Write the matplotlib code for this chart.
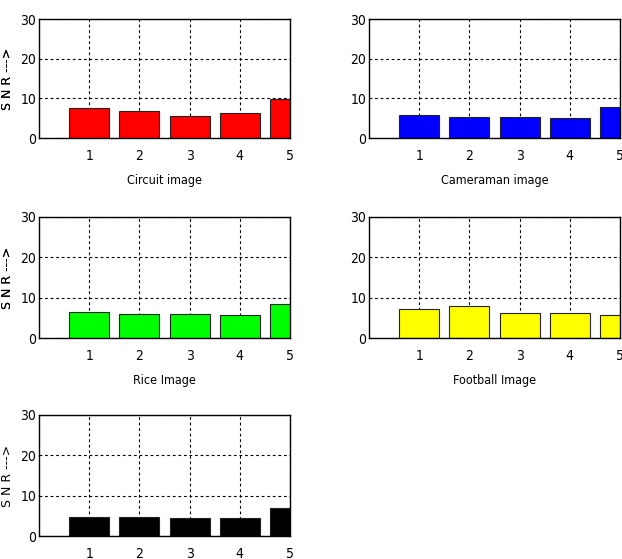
import matplotlib
matplotlib.use('Agg')
import matplotlib.pyplot as plt

positions = [1, 2, 3, 4, 5]
circuit = [7.6, 6.8, 5.5, 6.4, 9.8]
cameraman = [5.9, 5.3, 5.3, 5.0, 7.75]
rice = [6.4, 6.0, 6.0, 5.8, 8.5]
football = [7.1, 7.9, 6.1, 6.1, 5.8]
last = [4.75, 4.75, 4.5, 4.5, 7.0]

panels = [
    (circuit, '#ff0000', 'Circuit image'),
    (cameraman, '#0000ff', 'Cameraman image'),
    (rice, '#00ff00', 'Rice Image'),
    (football, '#ffff00', 'Football Image'),
    (last, '#000000', None),
]

# axes boxes in pixels: left, top, right, bottom
boxes = [
    (39, 19, 290, 138),
    (369, 19, 620, 138),
    (39, 217, 290, 338),
    (369, 217, 620, 338),
    (39, 415, 290, 536),
]

W, H = 622, 559

fig = plt.figure(figsize=(W / 100, H / 100), dpi=100)

for (vals, color, label), (l, t, r, b) in zip(panels, boxes):
    ax = fig.add_axes([l / W, 1 - b / H, (r - l) / W, (b - t) / H])
    ax.bar(positions, vals, width=0.8, color=color, edgecolor='#222222', linewidth=0.8, zorder=2)
    ax.set_xlim(0, 5)
    ax.set_ylim(0, 30)
    ax.set_xticks(positions)
    ax.set_yticks([0, 10, 20, 30])
    ax.grid(True, color='black', linestyle=(0, (2.5, 2.5)), linewidth=0.8, zorder=1)
    ax.tick_params(length=0, pad=8, axis='x')
    ax.tick_params(length=0, pad=2, axis='y')
    for lab in ax.get_xticklabels() + ax.get_yticklabels():
        lab.set_family('DejaVu Sans')
        lab.set_stretch('condensed')
        lab.set_fontsize(10)
    for s in ax.spines.values():
        s.set_color('black')
        s.set_linewidth(1)
    ax.set_ylabel('S N R --->', family='DejaVu Sans', fontsize=9)
    ax.yaxis.set_label_coords(-(l - 14) / (r - l), 0.5)
    if label:
        ax.set_xlabel(label, family='DejaVu Sans', stretch='condensed', fontsize=9, labelpad=8)

fig.savefig('out.png', dpi=100)
